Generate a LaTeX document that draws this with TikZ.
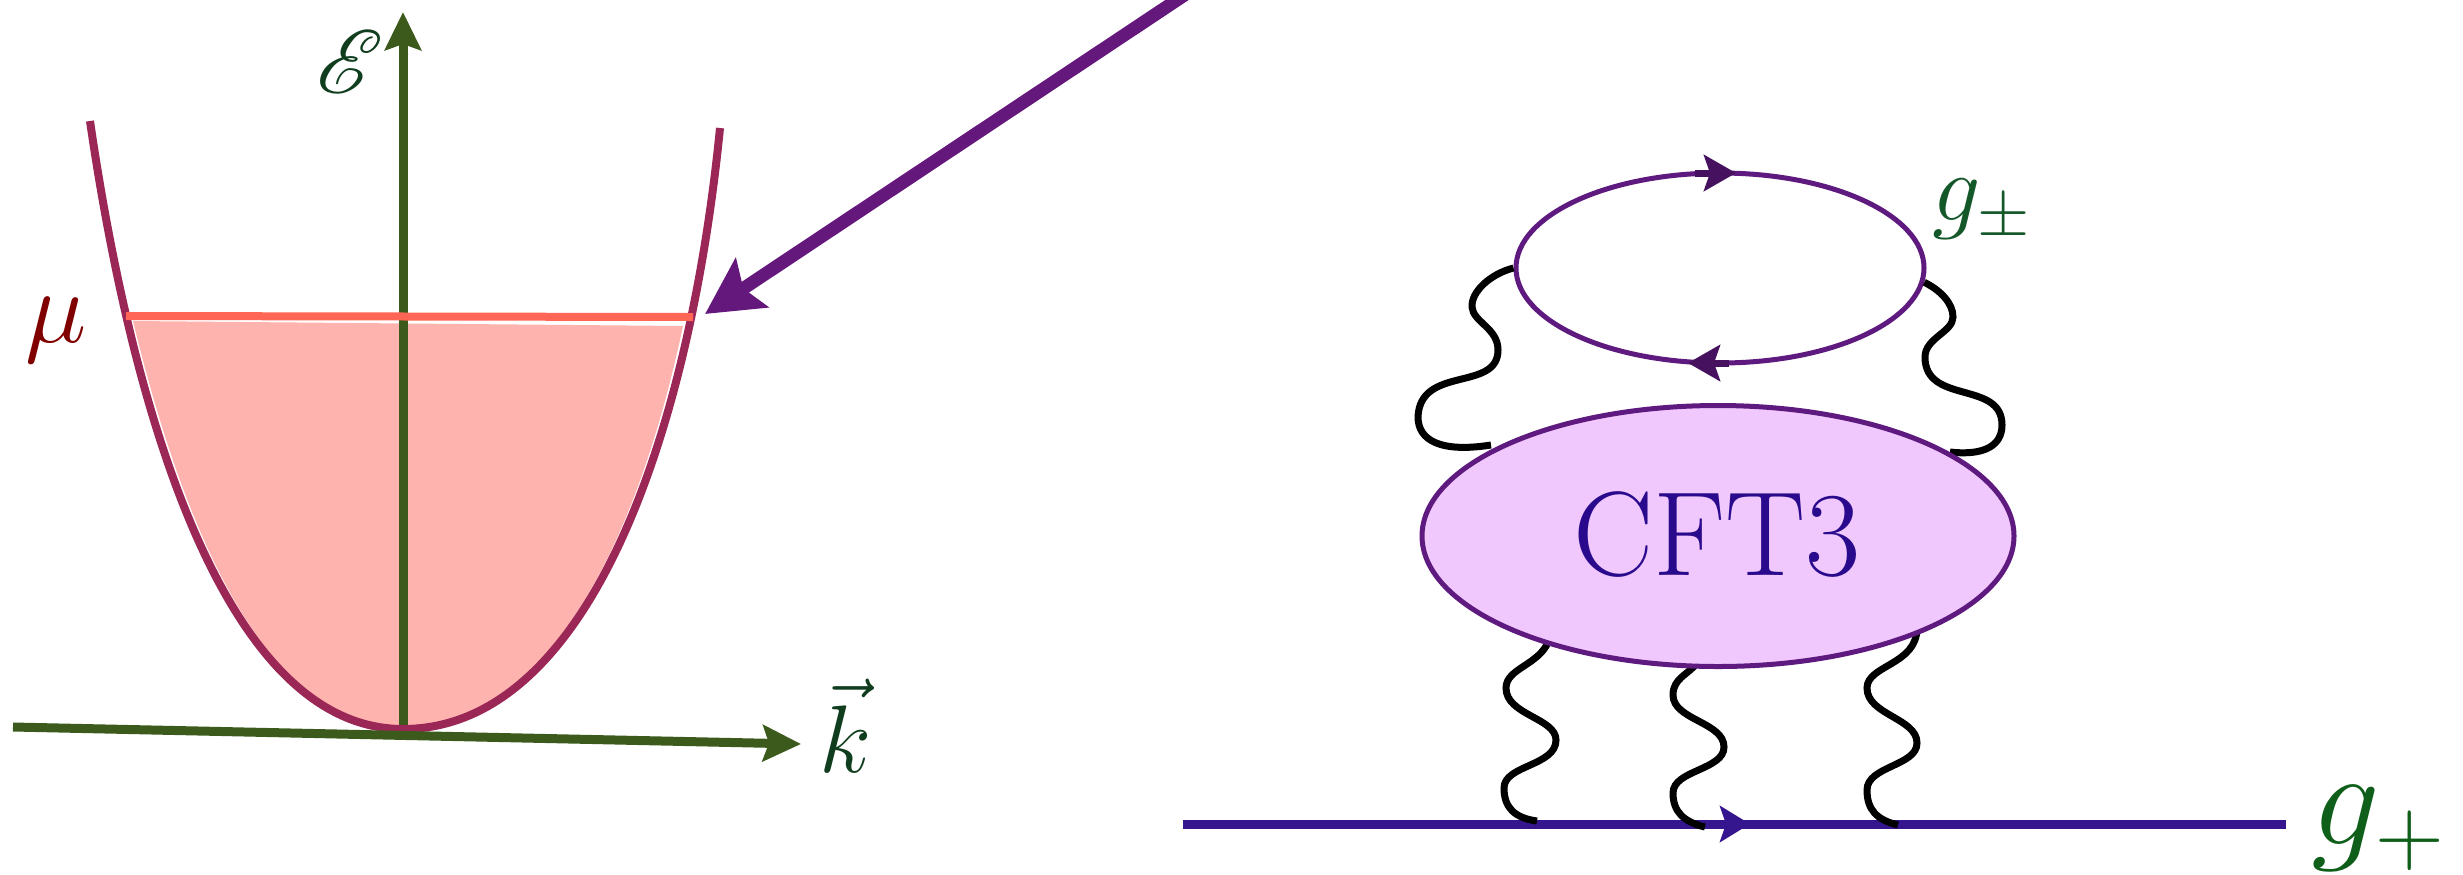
\documentclass[tikz,border=0pt]{standalone}
\usepackage{fix-cm}
\usepackage{mathrsfs}
\usetikzlibrary{arrows.meta,shapes.geometric}
\tikzset{
  axisline/.style={color={rgb, 255:red, 60; green, 90; blue, 28 }, line width=4.5pt, -{Stealth[length=19pt,width=18pt,inset=3pt]}},
  bandline/.style={color={rgb, 255:red, 155; green, 39; blue, 87 }, line width=4pt},
  bandfill/.style={fill={rgb, 255:red, 255; green, 179; blue, 174 }, draw=none},
  muline/.style={color={rgb, 255:red, 255; green, 102; blue, 85 }, line width=4pt},
  pointer/.style={color={rgb, 255:red, 100; green, 24; blue, 124 }, line width=6.5pt, -{Stealth[length=28pt,width=29pt,inset=5pt]}},
  wiggle/.style={color=black, line width=3.5pt},
  blobline/.style={draw={rgb, 255:red, 95; green, 26; blue, 128 }, line width=2.5pt, shape=ellipse, inner sep=0pt},
  loophead/.style={color={rgb, 255:red, 70; green, 18; blue, 95 }, line width=3.5pt, -{Stealth[length=16pt,width=18pt,inset=3pt]}},
  fermion/.style={color={rgb, 255:red, 54; green, 22; blue, 143 }, line width=4.5pt},
  fermionhead/.style={color={rgb, 255:red, 54; green, 22; blue, 143 }, line width=4.5pt, -{Stealth[length=15pt,width=18pt,inset=3pt]}},
  bigtext/.style={inner sep=0.75pt, font=\fontsize{#1}{#1}\selectfont},
}
\begin{document}
\begin{tikzpicture}[x=0.5pt,y=0.5pt,yscale=-1,xscale=1]
  \clip (0,0) rectangle (2463,874);
  %Filled band
  \fill [bandfill] (133,321) -- (683,326) .. controls (636,548) and (545,727) .. (403,727) .. controls (275,727) and (190,556) .. (133,321) -- cycle;
  %Axes
  \coordinate (energyfoot) at (403,729);
  \coordinate (energytip) at (403,12);
  \coordinate (momentumfoot) at (13,727);
  \coordinate (momentumtip) at (801,744);
  \draw [axisline] (energyfoot) -- (energytip);
  %Band curve
  \draw [bandline] (90,121) .. controls (135,430) and (230,729) .. (403,729) .. controls (590,729) and (690,430) .. (720,128);
  %Chemical potential
  \coordinate (muleft) at (126,316);
  \coordinate (muright) at (693,317);
  \draw [muline] (muleft) -- (muright);
  \draw [axisline] (momentumfoot) -- (momentumtip);
  %Pointer
  \coordinate (pointerfoot) at (1189,-8);
  \coordinate (pointertip) at (705,314);
  \draw [pointer] (pointerfoot) -- (pointertip);

  %Fermion line
  \coordinate (lineleft) at (1183,824);
  \coordinate (lineright) at (2286,824);
  \coordinate (linemid) at (1700,824);
  \coordinate (linetip) at (1750,824);
  \draw [fermion] (lineleft) -- (lineright);
  \draw [fermionhead] (linemid) -- (linetip);

  %Blobs
  \node (loop) [blobline, minimum width=204pt, minimum height=95pt] at (1720,268) {};
  %Wiggles above
  \draw [wiggle] (loop.west) .. controls (1490,274) and (1471,292) .. (1472,307) .. controls (1473,322) and (1498,328) .. (1498,350) .. controls (1498,392) and (1420,365) .. (1418,417) .. controls (1418,440) and (1440,453) .. (1491,445);
  \draw [wiggle] (loop.-4) .. controls (1940,290) and (1953,303) .. (1953,317) .. controls (1953,332) and (1925,338) .. (1925,357) .. controls (1925,405) and (2002,380) .. (2002,425) .. controls (2002,445) and (1985,456) .. (1950,452);
  %Wiggles below
  \coordinate (wigglea) at (1549,640);
  \coordinate (wiggleb) at (1698,662);
  \coordinate (wigglec) at (1917,628);
  \draw [wiggle] (wigglea) .. controls (1540,665) and (1506,668) .. (1506,688) .. controls (1506,715) and (1556,718) .. (1556,740) .. controls (1556,766) and (1504,765) .. (1504,788) .. controls (1504,808) and (1515,818) .. (1537,821);
  \draw [wiggle] (wiggleb) .. controls (1688,675) and (1673,678) .. (1673,695) .. controls (1673,720) and (1724,722) .. (1724,747) .. controls (1724,770) and (1673,770) .. (1673,793) .. controls (1673,812) and (1684,822) .. (1705,827);
  \draw [wiggle] (wigglec) .. controls (1917,665) and (1867,665) .. (1867,688) .. controls (1867,715) and (1917,718) .. (1917,743) .. controls (1917,766) and (1867,766) .. (1867,790) .. controls (1867,810) and (1877,820) .. (1898,825);
  %CFT blob
  \node (cft) [blobline, fill={rgb, 255:red, 240; green, 200; blue, 253 }, minimum width=296pt, minimum height=130.5pt] at (1718,536) {};
  %Loop arrows
  \coordinate (loopatail) at (1695,173);
  \coordinate (loopatip) at (1736,173);
  \coordinate (loopbtail) at (1729,363);
  \coordinate (loopbtip) at (1688,363);
  \draw [loophead] (loopatail) -- (loopatip);
  \draw [loophead] (loopbtail) -- (loopbtip);

  % Text Node
  \draw (350,62) node (energylabel) [inner sep=0.75pt, scale=4.5, color={rgb, 255:red, 15; green, 61; blue, 30 }] {$\mathscr{E}$};
  % Text Node
  \draw (56,330) node (mulabel) [bigtext=52pt, color={rgb, 255:red, 128; green, 0; blue, 0 }] {$\mu$};
  % Text Node
  \draw (846,726) node (momentumlabel) [bigtext=48pt, color={rgb, 255:red, 15; green, 61; blue, 30 }] {$\vec{k}$};
  % Text Node
  \draw (1982,210) node (looplabel) [bigtext=48pt, color={rgb, 255:red, 20; green, 88; blue, 42 }] {$g_{\pm}$};
  % Text Node
  \draw (2378,828) node (linelabel) [bigtext=68pt, color={rgb, 255:red, 15; green, 95; blue, 26 }] {$g_{+}$};
  % Text Node
  \draw (1717,535) node (cftlabel) [bigtext=60pt, color={rgb, 255:red, 42; green, 10; blue, 140 }] {CFT3};
\end{tikzpicture}
\end{document}
